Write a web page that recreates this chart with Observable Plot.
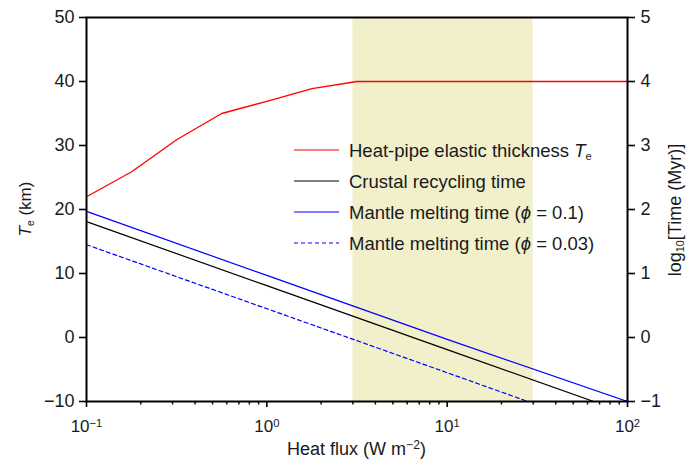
<!DOCTYPE html>
<html><head><meta charset="utf-8">
<script src="https://cdn.jsdelivr.net/npm/d3@7"></script>
<script src="https://cdn.jsdelivr.net/npm/@observablehq/plot@0.6"></script>
<style>
body{margin:0;background:#fff;}
#chart{width:697px;height:460px;}
svg{font-family:"Liberation Sans",Arial,Helvetica,sans-serif;}
</style></head><body><div id="chart"></div>
<script>
// ---- data ----
const fluxGrid = [0.1, 0.178, 0.316, 0.562, 1, 1.78, 3.16, 5.62, 10, 17.8, 31.6, 56.2, 100];
const elasticThicknessKm = [22, 25.9, 30.9, 35, 36.9, 38.9, 40, 40, 40, 40, 40, 40, 40];
const recyclingFlux = [0.1, 1, 10, 65];
const recyclingLogTime = [1.81, 0.81, -0.19, -1.0];
const melt01Flux = [0.1, 1, 10, 100];
const melt01LogTime = [1.97, 0.97, -0.03, -1.0];
const melt003Flux = [0.1, 1, 10, 28];
const melt003LogTime = [1.45, 0.45, -0.55, -1.0];
const shadedFlux = [3, 30];
const leftTicks = [-10, 0, 10, 20, 30, 40, 50];
const rightTickLabels = [-1, 0, 1, 2, 3, 4, 5];
const xMajorTicks = [0.1, 1, 10, 100];
const xTickExponents = ["\u22121", "0", "1", "2"];
const xMinorTicks = [0.2,0.3,0.4,0.5,0.6,0.7,0.8,0.9,2,3,4,5,6,7,8,9,20,30,40,50,60,70,80,90];
const legendLabels = ["Heat-pipe elastic thickness", "Crustal recycling time", "Mantle melting time", "Mantle melting time"];
const legendPhi = [null, null, "0.1", "0.03"];
const seriesColors = ["#ff0000", "#000000", "#0000ff", "#0000ff"];
const seriesDash = [null, null, null, "4,3"];

// right axis (log10 Myr) maps linearly onto left axis (km): -1..5 <-> -10..50
const kmPerLogUnit = 10;
const fmtMinus = v => (v < 0 ? "\u2212" : "") + Math.abs(v);

const redData = fluxGrid.map((x, i) => ({x, y: elasticThicknessKm[i]}));
const mk = (xs, ts) => xs.map((x, i) => ({x, y: ts[i] * kmPerLogUnit}));
const blackData = mk(recyclingFlux, recyclingLogTime);
const blueData = mk(melt01Flux, melt01LogTime);
const dashData = mk(melt003Flux, melt003LogTime);

const plot = Plot.plot({
  width: 697, height: 460,
  marginLeft: 86, marginRight: 70, marginTop: 17, marginBottom: 59,
  style: {fontFamily: '"Liberation Sans",Arial,Helvetica,sans-serif', background: "#fff"},
  x: {type: "log", domain: [0.1, 100]},
  y: {domain: [-10, 50]},
  marks: [
    Plot.rect([{x1: shadedFlux[0], x2: shadedFlux[1]}], {x1: "x1", x2: "x2", fill: "#f1f0cb"}),
    Plot.line(redData, {x: "x", y: "y", stroke: seriesColors[0], strokeWidth: 1.3, clip: true}),
    Plot.line(blackData, {x: "x", y: "y", stroke: seriesColors[1], strokeWidth: 1.2, clip: true}),
    Plot.line(blueData, {x: "x", y: "y", stroke: seriesColors[2], strokeWidth: 1.2, clip: true}),
    Plot.line(dashData, {x: "x", y: "y", stroke: seriesColors[3], strokeWidth: 1.2, strokeDasharray: seriesDash[3], clip: true}),
    Plot.axisY({anchor: "left", ticks: leftTicks, tickSize: 7, tickPadding: 5, fontSize: 18, strokeWidth: 1.6, label: null, tickFormat: fmtMinus}),
    Plot.axisY({anchor: "right", ticks: leftTicks, tickSize: 7, tickPadding: 6, fontSize: 18, strokeWidth: 1.6, label: null,
      tickFormat: d => fmtMinus(rightTickLabels[leftTicks.indexOf(d)])}),
    Plot.axisX({ticks: xMajorTicks, tickSize: 6, tickPadding: 12, fontSize: 17, strokeWidth: 1.6, label: null,
      tickFormat: d => "10^" + xTickExponents[xMajorTicks.indexOf(d)]}),
    Plot.axisX({ticks: xMinorTicks, tickSize: 3.5, strokeWidth: 1.4, label: null, tickFormat: () => ""}),
    Plot.frame({stroke: "black", strokeWidth: 2})
  ]
});
document.getElementById("chart").appendChild(plot);

const svg = d3.select(plot);
// superscripts on x tick labels
svg.selectAll('[aria-label="x-axis tick label"] text').each(function() {
  const t = this.textContent;
  if (!t.includes("^")) return;
  const [base, exp] = t.split("^");
  const el = d3.select(this);
  el.text(null);
  el.append("tspan").text(base);
  el.append("tspan").attr("dy", "-0.45em").attr("font-size", "0.66em").text(exp);
});

svg.selectAll("text").attr("fill", "#1a1a1a");

// axis titles
const titleSize = 18;
const bt = svg.append("text").attr("x", 356.5).attr("y", 455).attr("text-anchor", "middle")
  .attr("font-size", titleSize).attr("fill", "#1a1a1a");
bt.append("tspan").text("Heat flux (W m");
bt.append("tspan").attr("dy", "-0.45em").attr("font-size", "0.68em").text("\u22122");
bt.append("tspan").attr("dy", "0.306em").text(")");

const lt = svg.append("text").attr("transform", "translate(31,209) rotate(-90)").attr("text-anchor", "middle")
  .attr("font-size", 17).attr("fill", "#1a1a1a");
lt.append("tspan").attr("font-style", "italic").text("T");
lt.append("tspan").attr("dy", "0.3em").attr("font-size", "0.6em").text("e");
lt.append("tspan").attr("dy", "-0.18em").text(" (km)");

const rt = svg.append("text").attr("transform", "translate(681,210) rotate(-90)").attr("text-anchor", "middle")
  .attr("font-size", titleSize).attr("fill", "#1a1a1a");
rt.append("tspan").text("log");
rt.append("tspan").attr("dy", "0.3em").attr("font-size", "0.6em").text("10");
rt.append("tspan").attr("dy", "-0.18em").text("[Time (Myr)]");

// legend
const lg = svg.append("g").attr("transform", "translate(294,150)");
legendLabels.forEach((lab, i) => {
  const g = lg.append("g").attr("transform", `translate(0,${i * 31})`);
  g.append("line").attr("x1", 0).attr("x2", 45).attr("y1", 0).attr("y2", 0)
    .attr("stroke", seriesColors[i]).attr("stroke-width", 1.2)
    .attr("stroke-dasharray", seriesDash[i]);
  const t = g.append("text").attr("x", 55).attr("y", 0).attr("dy", "0.36em")
    .attr("text-anchor", "start").attr("font-size", 18.5).attr("fill", "#1a1a1a");
  t.append("tspan").text(lab);
  if (i === 0) {
    t.append("tspan").text(" ");
    t.append("tspan").attr("font-style", "italic").text("T");
    t.append("tspan").attr("dy", "0.3em").attr("font-size", "0.6em").text("e");
  }
  if (legendPhi[i]) {
    t.append("tspan").text(" (");
    t.append("tspan").attr("font-style", "italic").text("\u03d5");
    t.append("tspan").text(" = " + legendPhi[i] + ")");
  }
});
</script>
</body></html>
